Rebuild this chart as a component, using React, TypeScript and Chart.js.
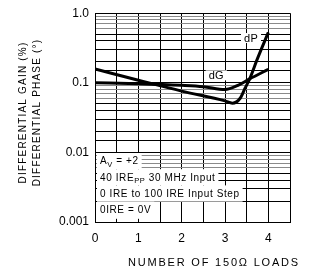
import React, { useEffect, useRef } from "react";
import { Chart, registerables } from "chart.js";

Chart.register(...registerables);

// ---- data ----
const loadsDP = [0, 1, 2, 3, 3.17, 3.35, 3.46, 3.57, 3.74, 4];
const valuesDP = [0.158, 0.109, 0.076, 0.055, 0.051, 0.06, 0.083, 0.114, 0.215, 0.53];
const loadsDG = [0, 1, 2, 2.5, 3, 3.3, 3.57, 4];
const valuesDG = [0.1, 0.097, 0.092, 0.088, 0.08, 0.092, 0.114, 0.156];

const yTickValues = [0.001, 0.01, 0.1, 1];
const yTickLabels = ["0.001", "0.01", "0.1", "1.0"];
const xTickValues = [0, 1, 2, 3, 4];
const xTickLabels = ["0", "1", "2", "3", "4"];

const seriesNames = ["dP", "dG"];
const seriesLabelPos = [
  { x: 3.6, y: 0.44 },
  { x: 2.8, y: 0.128 },
];

const yTitleLines = ["DIFFERENTIAL GAIN (%)", "DIFFERENTIAL PHASE (\u00B0)"];
const xTitle = "NUMBER OF 150\u03A9 LOADS";

// condition note rows: segments [text, isSubscript]
const noteRows: [string, boolean][][] = [
  [["A", false], ["V", true], [" = +2", false]],
  [["40 IRE", false], ["PP", true], [" 30 MHz Input", false]],
  [["0 IRE to 100 IRE Input Step", false]],
  [["0IRE = 0V", false]],
];

const FONT = "'Liberation Sans', Arial, Helvetica, sans-serif";

function isDecade(v: number) {
  const l = Math.log10(v);
  return Math.abs(l - Math.round(l)) < 1e-6;
}

const annotate = {
  id: "annotate",
  afterDraw(chart: any) {
    const ctx = chart.ctx as CanvasRenderingContext2D;
    const xs = chart.scales.x;
    const ys = chart.scales.y;
    const area = chart.chartArea;
    ctx.save();

    // notes block
    ctx.font = `10px ${FONT}`;
    (ctx as any).letterSpacing = "0.6px";
    const rowH = 16.2;
    const top0 = 153;
    const textX = area.left + 5;
    noteRows.forEach((row, i) => {
      let w = 0;
      row.forEach(([t, sub]) => {
        ctx.font = `${sub ? 7.5 : 10}px ${FONT}`;
        w += ctx.measureText(t).width;
      });
      const yTop = top0 + i * rowH;
      ctx.fillStyle = "#fff";
      ctx.fillRect(area.left + 2, yTop, textX - area.left - 2 + w + 3, rowH + (i === noteRows.length - 1 ? 1 : 0));
      ctx.fillStyle = "#000";
      ctx.textBaseline = "middle";
      ctx.textAlign = "left";
      let x = textX;
      const yc = yTop + rowH / 2 + 0.5;
      row.forEach(([t, sub]) => {
        ctx.font = `${sub ? 7.5 : 10}px ${FONT}`;
        ctx.fillText(t, x, sub ? yc + 3 : yc);
        x += ctx.measureText(t).width;
      });
    });

    // series labels
    ctx.font = `11px ${FONT}`;
    (ctx as any).letterSpacing = "0.3px";
    ctx.textAlign = "center";
    ctx.textBaseline = "middle";
    seriesNames.forEach((name, i) => {
      const px = xs.getPixelForValue(seriesLabelPos[i].x);
      const py = ys.getPixelForValue(seriesLabelPos[i].y);
      const w = ctx.measureText(name).width;
      ctx.fillStyle = "#fff";
      ctx.fillRect(px - w / 2 - 3, py - 5, w + 6, 10);
      ctx.fillStyle = "#000";
      ctx.fillText(name, px, py + 0.5);
    });

    // axis titles
    ctx.font = `11px ${FONT}`;
    (ctx as any).letterSpacing = "1.8px";
    ctx.textAlign = "center";
    ctx.textBaseline = "middle";
    ctx.fillText(xTitle, 214, 262.5);

    ctx.font = `10px ${FONT}`;
    (ctx as any).letterSpacing = "1.2px";
    const yMid = 112.5;
    const lineX = [23.5, 37.5];
    yTitleLines.forEach((t, i) => {
      ctx.save();
      ctx.translate(lineX[i], yMid);
      ctx.rotate(-Math.PI / 2);
      ctx.fillText(t, 0, 0);
      ctx.restore();
    });

    ctx.restore();
  },
};

export default function App() {
  const ref = useRef<HTMLCanvasElement | null>(null);

  useEffect(() => {
    if (!ref.current) return;
    const chart = new Chart(ref.current, {
      type: "line",
      data: {
        datasets: [
          {
            label: seriesNames[0],
            data: loadsDP.map((x, i) => ({ x, y: valuesDP[i] })),
            borderColor: "#000",
            borderWidth: 3,
            pointRadius: 0,
            cubicInterpolationMode: "monotone",
            fill: false,
          },
          {
            label: seriesNames[1],
            data: loadsDG.map((x, i) => ({ x, y: valuesDG[i] })),
            borderColor: "#000",
            borderWidth: 3,
            pointRadius: 0,
            cubicInterpolationMode: "monotone",
            fill: false,
          },
        ],
      },
      options: {
        responsive: false,
        animation: false,
        devicePixelRatio: 1,
        layout: { padding: { top: 6, right: 19, left: 0, bottom: 0 } },
        plugins: {
          legend: { display: false },
          tooltip: { enabled: false },
          title: { display: false },
        },
        scales: {
          x: {
            type: "linear",
            min: 0,
            max: 4.5,
            afterFit: (s: any) => {
              s.height = 54;
            },
            border: { display: true, color: "#000", width: 1 },
            grid: { color: "#000", lineWidth: 1, drawTicks: false },
            ticks: {
              stepSize: 0.5,
              autoSkip: false,
              maxRotation: 0,
              padding: 9,
              color: "#000",
              font: { size: 12, family: FONT },
              callback: (v: any) => {
                const idx = xTickValues.findIndex((t) => Math.abs(t - Number(v)) < 1e-9);
                return idx >= 0 ? xTickLabels[idx] : "";
              },
            },
          },
          y: {
            type: "logarithmic",
            min: 0.001,
            max: 1,
            afterFit: (s: any) => {
              s.width = 95;
            },
            border: { display: true, color: "#000", width: 1 },
            grid: {
              drawTicks: false,
              lineWidth: 1,
              color: (c: any) => {
                const v = c.tick ? c.tick.value : 1;
                const sig = Math.round(v / Math.pow(10, Math.floor(Math.log10(v) + 1e-9)));
                return sig >= 6 ? "#8a8a8a" : "#000";
              },
            },
            ticks: {
              autoSkip: false,
              padding: 6,
              color: "#000",
              font: { size: 12, family: FONT },
              callback: (v: any) => {
                const n = Number(v);
                if (!isDecade(n)) return "";
                const idx = yTickValues.findIndex((t) => Math.abs(Math.log10(t) - Math.log10(n)) < 1e-6);
                return idx >= 0 ? yTickLabels[idx] : "";
              },
            },
          },
        },
      },
      plugins: [annotate],
    } as any);
    return () => chart.destroy();
  }, []);

  return (
    <div style={{ position: "fixed", left: 0, top: 0, width: 309, height: 276, background: "#fff" }}>
      <canvas ref={ref} width={309} height={276} style={{ display: "block" }} />
    </div>
  );
}
